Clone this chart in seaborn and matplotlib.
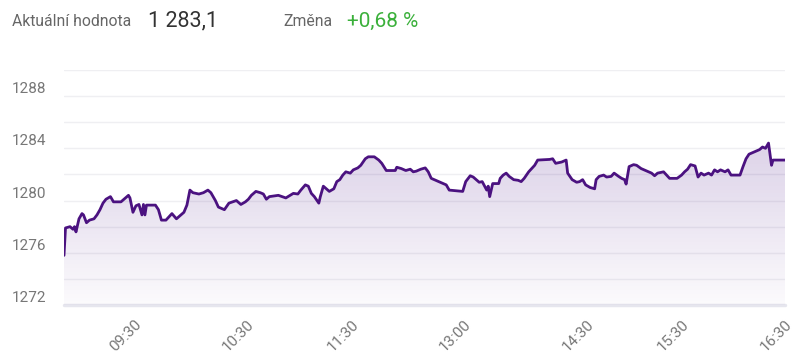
import numpy as np
import pandas as pd
import matplotlib
matplotlib.use("Agg")
import matplotlib.pyplot as plt
from matplotlib.colors import LinearSegmentedColormap
import seaborn as sns

# ---- data (sample index during the session, index value) ----
sample = [0, 1, 4, 6, 7, 8, 10, 12, 13, 15, 17, 20, 22, 24, 26, 28, 31, 33, 35, 38,
          41, 43, 44, 46, 48, 50, 52, 53, 54, 55, 61, 63, 65, 68, 72, 75, 77, 80, 82, 84,
          86, 90, 93, 96, 98, 101, 103, 107, 110, 115, 118, 121, 123, 125, 128, 131, 133, 135, 137, 143,
          148, 153, 156, 158, 161, 163, 165, 167, 170, 171, 173, 175, 177, 180, 182, 184, 186, 188, 191, 193,
          196, 198, 201, 203, 207, 210, 212, 215, 221, 222, 225, 228, 231, 233, 235, 238, 241, 243, 245, 247,
          250, 253, 255, 257, 266, 268, 271, 273, 275, 277, 279, 282, 283, 284, 286, 290, 291, 293, 295, 297,
          300, 303, 305, 307, 310, 312, 314, 316, 324, 326, 328, 332, 335, 336, 339, 342, 344, 346, 348, 351,
          354, 355, 357, 360, 362, 365, 367, 370, 372, 374, 375, 377, 380, 382, 385, 388, 392, 394, 396, 400,
          402, 404, 409, 412, 414, 416, 418, 421, 423, 425, 427, 430, 432, 434, 436, 438, 441, 443, 445, 451,
          453, 455, 457, 461, 464, 466, 468, 470, 472, 473, 481]
value = [1275.8, 1277.9, 1278.0, 1277.8, 1278.0, 1277.6, 1278.6, 1279.0, 1278.9, 1278.3,
         1278.5, 1278.6, 1278.9, 1279.3, 1279.8, 1280.1, 1280.3, 1279.9, 1279.9, 1279.9,
         1280.2, 1280.4, 1280.2, 1279.1, 1279.6, 1279.7, 1278.9, 1279.7, 1278.9, 1279.65,
         1279.65, 1279.3, 1278.5, 1278.5, 1279.0, 1278.6, 1278.8, 1279.1, 1279.65, 1280.8,
         1280.6, 1280.5, 1280.6, 1280.8, 1280.6, 1280.0, 1279.5, 1279.3, 1279.8, 1280.0,
         1279.7, 1279.9, 1280.1, 1280.4, 1280.7, 1280.6, 1280.5, 1280.1, 1280.3, 1280.4,
         1280.2, 1280.55, 1280.5, 1280.8, 1281.2, 1281.1, 1280.55, 1280.3, 1279.8, 1280.3,
         1281.1, 1280.9, 1280.7, 1280.9, 1281.45, 1281.6, 1281.95, 1282.2, 1282.1, 1282.35,
         1282.5, 1282.7, 1283.2, 1283.35, 1283.35, 1283.1, 1282.85, 1282.3, 1282.3, 1282.55,
         1282.45, 1282.3, 1282.4, 1282.2, 1282.25, 1282.4, 1282.5, 1282.2, 1281.7, 1281.6,
         1281.45, 1281.3, 1281.2, 1280.8, 1280.7, 1281.45, 1281.9, 1281.8, 1281.6, 1281.4,
         1281.45, 1280.8, 1281.1, 1280.3, 1281.3, 1281.3, 1281.7, 1281.95, 1282.1, 1281.85,
         1281.6, 1281.55, 1281.45, 1281.7, 1282.2, 1282.45, 1282.7, 1283.1, 1283.15, 1283.2,
         1282.85, 1282.95, 1283.1, 1282.1, 1281.6, 1281.4, 1281.45, 1281.6, 1281.2, 1281.0,
         1280.9, 1281.6, 1281.85, 1281.95, 1281.8, 1281.85, 1282.1, 1281.85, 1281.7, 1281.6,
         1281.26, 1282.6, 1282.75, 1282.7, 1282.45, 1282.3, 1282.1, 1281.9, 1282.1, 1282.2,
         1281.95, 1281.7, 1281.7, 1281.95, 1282.2, 1282.4, 1282.75, 1282.65, 1281.8, 1282.1,
         1281.95, 1282.1, 1281.95, 1282.35, 1282.2, 1282.35, 1282.2, 1282.35, 1281.95, 1281.95,
         1282.6, 1283.2, 1283.55, 1283.75, 1283.9, 1284.1, 1284.0, 1284.4, 1282.7, 1283.1, 1283.1]

tick_samples = [47, 122, 192, 267, 349, 412, 481]
tick_labels = ["09:30", "10:30", "11:30", "13:00", "14:30", "15:30", "16:30"]
y_ticks = [1272, 1276, 1280, 1284, 1288]
y_grid_minor = [1274, 1278, 1282, 1286, 1290]

header_label_1 = "Aktuální hodnota"
header_value_1 = "1 283,1"
header_label_2 = "Změna"
header_value_2 = "+0,68 %"

df = pd.DataFrame({"sample": sample, "value": value})

sns.set_theme(style="white")
plt.rcParams["font.family"] = ["Roboto", "DejaVu Sans"]

line_color = "#4b1280"
fig = plt.figure(figsize=(8.0, 3.63), dpi=100)
ax = fig.add_axes([0.08, 0.1598, 0.90125, 0.6474])

y_min, y_max = 1272, 1290
x_min, x_max = min(sample), max(sample)

# gradient fill under the line
cmap = LinearSegmentedColormap.from_list(
    "fade", [(0.0, (0.29, 0.08, 0.53, 0.02)), (1.0, (0.29, 0.08, 0.53, 0.19))])
grad = np.linspace(0, 1, 256).reshape(-1, 1)
top = max(value)
im = ax.imshow(grad, cmap=cmap, aspect="auto", origin="lower",
               extent=[x_min, x_max, y_min, top], zorder=1, interpolation="bicubic")
poly = ax.fill_between(df["sample"], df["value"], y_min, color="none", lw=0)
clip_path = poly.get_paths()[0]
im.set_clip_path(clip_path, transform=ax.transData)

sns.lineplot(data=df, x="sample", y="value", ax=ax, color=line_color,
             linewidth=2.0, zorder=3)

ax.set_xlim(x_min, x_max)
ax.set_ylim(y_min, y_max)

# grid lines
for g in y_ticks[1:] + y_grid_minor:
    ax.axhline(g, color="#efeff2", lw=1.0, zorder=0)
ax.axhline(y_min, color="#e6e6ee", lw=2.5, zorder=0, clip_on=False)

for s in ax.spines.values():
    s.set_visible(False)

ax.set_yticks(y_ticks)
ax.set_yticklabels([str(t) for t in y_ticks])
ax.tick_params(axis="y", length=0, pad=13, labelsize=11, labelcolor="#777777")
for lbl in ax.get_yticklabels():
    lbl.set_va("bottom")

ax.set_xticks(tick_samples)
ax.set_xticklabels(tick_labels, rotation=45, ha="right", rotation_mode="anchor")
ax.tick_params(axis="x", length=0, pad=9, labelsize=11, labelcolor="#777777")
ax.set_xlabel("")
ax.set_ylabel("")

# header
hy = 1 - 21 / 363
fig.text(12 / 800, hy, header_label_1, fontsize=11.3, color="#666666", va="center")
fig.text(148 / 800, hy, header_value_1, fontsize=15.5, color="#333333", va="center")
fig.text(283 / 800, hy, header_label_2, fontsize=11.3, color="#666666", va="center")
fig.text(347 / 800, hy, header_value_2, fontsize=15, color="#3bb03b", va="center")

fig.savefig("out.png", dpi=100)
